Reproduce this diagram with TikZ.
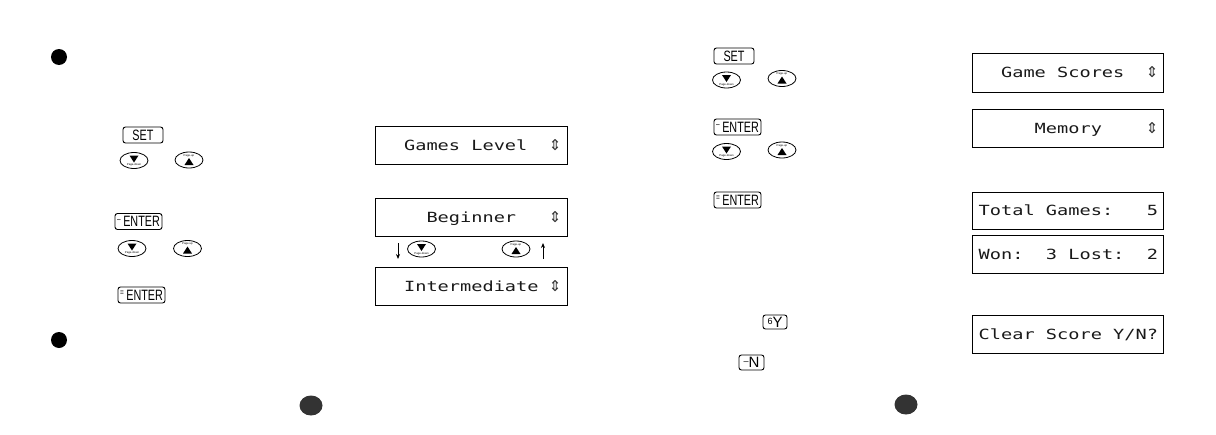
\documentclass[tikz,border=0pt]{standalone}
\usepackage{fontspec}
\setmainfont{Liberation Sans}
\newfontfamily\keyfont[FakeStretch=0.72]{Liberation Sans}
\newfontfamily\lcdfont[FakeStretch=1.33]{DejaVu Sans Mono}
\newfontfamily\symfont{DejaVu Sans}
\usetikzlibrary{shapes.geometric,calc,arrows.meta}
\newcommand\mk[2][4.5pt]{\raisebox{#1}{\fontsize{9}{9}\selectfont #2}}
\begin{document}
\begin{tikzpicture}[x=1pt,y=-1pt,
 key/.style={draw,line width=0.9pt,rounded corners=2.5pt,inner sep=0pt,minimum height=16pt,font=\keyfont\fontsize{15}{15}\selectfont},
 lcd/.style={draw,line width=1pt,minimum width=192pt,minimum height=38pt,inner sep=0pt},
 lcdtext/.style={anchor=west,inner sep=0pt,text height=10pt,text depth=0pt,text=black!90,font=\lcdfont\fontsize{14}{14}\selectfont},
 updn/.style={inner sep=0pt,text=black!80,font=\symfont\fontsize{15}{15}\selectfont},
 pgkey/.style={ellipse,draw,line width=0.8pt,minimum width=28pt,minimum height=16pt,inner sep=0pt},
 tiny/.style={inner sep=0pt,font=\fontsize{2.8}{3}\selectfont},
 bullet/.style={circle,fill=black,minimum size=16pt,inner sep=0pt},
 pagedot/.style={ellipse,fill=black!80,minimum width=23pt,minimum height=20pt,inner sep=0pt},
 arr/.style={-{Stealth[length=5pt,width=4pt]},line width=0.8pt}
]
\useasboundingbox (0,0) rectangle (1216,434);

\newcommand\pgdown[2]{%
  \node[pgkey] (#1) at #2 {};
  \fill ($(#1.center)+(-4.5,-5)$) -- ($(#1.center)+(4.5,-5)$) -- ($(#1.center)+(0,2)$) -- cycle;
  \node[tiny] (#1t) at ($(#1.center)+(0,4.5)$) {Page-down};}
\newcommand\pgup[2]{%
  \node[pgkey] (#1) at #2 {};
  \fill ($(#1.center)+(-4.5,5)$) -- ($(#1.center)+(4.5,5)$) -- ($(#1.center)+(0,-2)$) -- cycle;
  \node[tiny] (#1t) at ($(#1.center)+(0,-4.5)$) {Page-up};}

% bullets and page dots
\node[bullet] (b1) at (59,57) {};
\node[bullet] (b2) at (59,340) {};
\node[pagedot] (p1) at (311,405.5) {};
\node[pagedot] (p2) at (906,404.5) {};

% ---------- left page keys
\node[key,minimum width=40pt] (set1) at (143,135) {SET};
\pgdown{d1}{(134,160.5)}
\pgup{u1}{(189,160)}
\node[key,minimum width=47pt] (ent1) at (138.5,221.5) {\mk{–}\,ENTER};
\pgdown{d2}{(132,248.5)}
\pgup{u2}{(187.5,248.5)}
\node[key,minimum width=47pt] (ent2) at (141.5,295) {\mk{=}\,ENTER};

% ---------- left page displays
\node[lcd] (gl) at (471,145) {};
\node[lcdtext] (glt) at ($(gl.west)+(29.4,0)$) {Games Level};
\node[updn] (gls) at ($(gl.west)+(180.6,0)$) {⇕};
\node[lcd] (bg) at (471,217) {};
\node[lcdtext] (bgt) at ($(bg.west)+(51.8,0)$) {Beginner};
\node[updn] (bgs) at ($(bg.west)+(180.6,0)$) {⇕};
\node[lcd] (im) at (471,286) {};
\node[lcdtext] (imt) at ($(im.west)+(29.4,0)$) {Intermediate};
\node[updn] (ims) at ($(im.west)+(180.6,0)$) {⇕};

\pgdown{d3}{(421.5,249)}
\pgup{u3}{(516,249)}
\coordinate (a1s) at (398,243);
\coordinate (a1e) at (398,259);
\coordinate (a2s) at (543,259);
\coordinate (a2e) at (543,243);
\draw[arr] (a1s) -- (a1e);
\draw[arr] (a2s) -- (a2e);

% ---------- right page keys
\node[key,minimum width=40pt] (set2) at (734,56) {SET};
\pgdown{d4}{(726.5,80)}
\pgup{u4}{(782,78.5)}
\node[key,minimum width=47pt] (ent3) at (737.5,127) {\mk{–}\,ENTER};
\pgdown{d5}{(726.5,151.5)}
\pgup{u5}{(782,150)}
\node[key,minimum width=47pt] (ent4) at (737.5,200) {\mk{=}\,ENTER};
\node[key,minimum width=24pt,minimum height=14pt,font=\fontsize{15}{15}\selectfont] (ky) at (775,322) {\mk[3pt]{6}Y};
\node[key,minimum width=25pt,minimum height=15pt,font=\fontsize{15}{15}\selectfont] (kn) at (751.5,362.5) {\mk[3pt]{–}N};

% ---------- right page displays
\node[lcd,minimum width=191pt,minimum height=39pt] (gs) at (1067.5,72.5) {};
\node[lcdtext] (gst) at ($(gs.west)+(29.4,0)$) {Game Scores};
\node[updn] (gss) at ($(gs.west)+(180.6,0)$) {⇕};
\node[lcd,minimum width=191pt] (mem) at (1067.5,128) {};
\node[lcdtext] (memt) at ($(mem.west)+(63,0)$) {Memory};
\node[updn] (mems) at ($(mem.west)+(180.6,0)$) {⇕};
\node[lcd,minimum width=191pt,minimum height=37pt] (tg) at (1067.5,210.5) {};
\node[lcdtext] (tgt) at ($(tg.west)+(7,0)$) {Total~Games:~~~5};
\node[lcd,minimum width=191pt] (won) at (1067.5,254) {};
\node[lcdtext] (wont) at ($(won.west)+(7,0)$) {Won:~~3~Lost:~~2};
\node[lcd,minimum width=191pt] (cs) at (1067.5,334) {};
\node[lcdtext] (cst) at ($(cs.west)+(7,0)$) {Clear~Score~Y/N?};
\end{tikzpicture}
\end{document}
